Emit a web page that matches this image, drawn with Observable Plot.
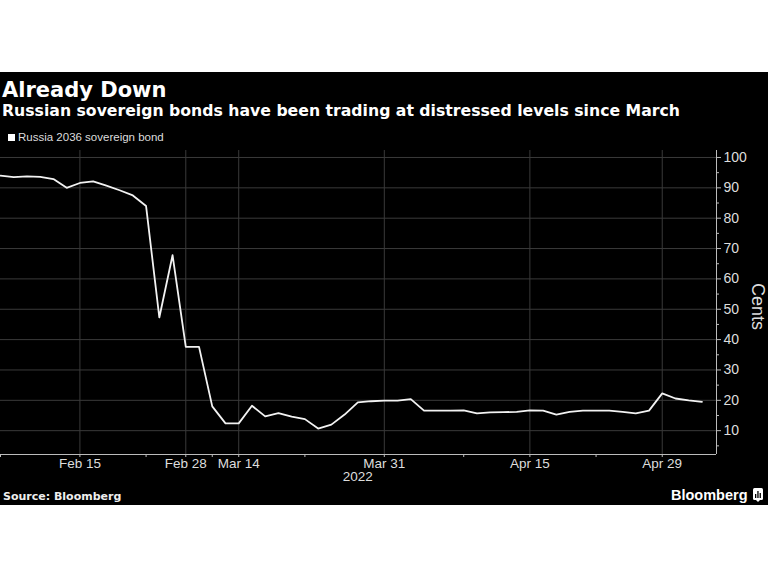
<!DOCTYPE html>
<html><head><meta charset="utf-8">
<script src="https://cdn.jsdelivr.net/npm/d3@7"></script>
<script src="https://cdn.jsdelivr.net/npm/@observablehq/plot@0.6"></script>
<style>
html,body{margin:0;padding:0;background:#fff;}
#wrap{position:absolute;left:0;top:72px;width:768px;height:433px;background:#000;overflow:hidden;}
.t{position:absolute;white-space:nowrap;color:#fff;line-height:1;}
#title{left:2px;top:6px;font:bold 21px "DejaVu Sans";}
#subtitle{left:2px;top:29px;font:bold 15.7px "DejaVu Sans";}
#legend{left:8px;top:59px;font:11.5px "Liberation Sans";color:#ddd;}
#legend i{display:inline-block;width:7px;height:7px;background:#fff;margin-right:3px;vertical-align:0px;}
#chart{position:absolute;left:0;top:70px;}
#source{left:3px;top:418px;font:bold 11px "DejaVu Sans";color:#eee;}
#logo{left:671px;top:415px;font:bold 14.5px "Liberation Sans";color:#fff;}
#icon{position:absolute;left:753px;top:416px;}
</style>
</head><body>
<div id="wrap">
  <div class="t" id="title">Already Down</div>
  <div class="t" id="subtitle">Russian sovereign bonds have been trading at distressed levels since March</div>
  <div class="t" id="legend"><i></i>Russia 2036 sovereign bond</div>
  <div id="chart"></div>
  <div class="t" id="source">Source: Bloomberg</div>
  <div class="t" id="logo">Bloomberg</div>
  <svg id="icon" width="10" height="14" viewBox="0 0 10 14"><rect x="0" y="0" width="10" height="12" rx="1.5" fill="#fff"/><rect x="2" y="6" width="1.3" height="4" fill="#000"/><rect x="4.3" y="3" width="1.3" height="7" fill="#000"/><rect x="6.6" y="5" width="1.3" height="5" fill="#000"/><path d="M3 12 L5 14 L7 12Z" fill="#fff"/></svg>
</div>
<script>
const values = [94.0, 93.5, 93.8, 93.6, 92.9, 90.0, 91.6, 92.1, 90.7, 89.2,
  87.5, 84.0, 47.3, 67.8, 37.6, 37.6, 18.0, 12.4, 12.4, 18.2,
  14.7, 15.8, 14.6, 13.8, 10.7, 12.0, 15.3, 19.3, 19.7, 19.9,
  19.9, 20.4, 16.6, 16.6, 16.6, 16.7, 15.7, 16.0, 16.1, 16.2,
  16.7, 16.6, 15.3, 16.2, 16.6, 16.6, 16.6, 16.2, 15.7, 16.6,
  22.3, 20.6, 20.0, 19.5];
const majorTicks = [6, 14, 18, 29, 40, 50];
const majorLabels = ["Feb 15", "Feb 28", "Mar 14", "Mar 31", "Apr 15", "Apr 29"];
const minorTicks = [0, 11, 16, 23, 35, 45];
const yTicks = [10, 20, 30, 40, 50, 60, 70, 80, 90, 100];
const yMinor = [5, 15, 25, 35, 45, 55, 65, 75, 85, 95];
const xDomain = [0, 54.1];
const yDomain = [2.15, 102.3];
const yearLabels = [{i: 27, text: "2022"}];

const labelMap = new Map(majorTicks.map((t, i) => [t, majorLabels[i]]));
const series = values.map((v, i) => ({i, v}));

const chart = Plot.plot({
  width: 768, height: 345,
  marginTop: 8, marginBottom: 33, marginLeft: 0, marginRight: 52,
  style: {background: "transparent", color: "#ddd", fontFamily: "Liberation Sans", fontSize: "13.5px"},
  x: {domain: xDomain, axis: null, label: null},
  y: {domain: yDomain, axis: null, label: null},
  marks: [
    Plot.gridY(yTicks, {stroke: "#3a3a3a", strokeOpacity: 1}),
    Plot.gridX(majorTicks, {stroke: "#3a3a3a", strokeOpacity: 1}),
    Plot.ruleY([yDomain[0]], {stroke: "#bbb"}),
    Plot.ruleX([xDomain[1]], {stroke: "#bbb"}),
    Plot.axisX(majorTicks, {tickFormat: d => labelMap.get(d), tickSize: 3, tickPadding: 1, stroke: "#bbb", fill: "#ddd", fontSize: 13.5, label: null}),
    Plot.axisX(minorTicks, {tickFormat: () => "", tickSize: 3, stroke: "#bbb", label: null}),
    Plot.axisY(yTicks, {anchor: "right", tickSize: 4, tickPadding: 3, stroke: "#bbb", fill: "#ddd", fontSize: 14, label: null}),
    Plot.axisY(yMinor, {anchor: "right", tickSize: 2, tickFormat: () => "", stroke: "#bbb", label: null}),
    Plot.line(series, {x: "i", y: "v", stroke: "#f2f2f2", strokeWidth: 1.8}),
    Plot.text(yearLabels, {x: "i", text: "text", frameAnchor: "bottom", dy: 26, fill: "#ddd", fontSize: 13.5}),
    Plot.text(["Cents"], {frameAnchor: "right", textAnchor: "middle", dx: 41, dy: 4, rotate: 90, fill: "#ddd", fontSize: 18})
  ]
});
document.getElementById("chart").appendChild(chart);
</script>
</body></html>
